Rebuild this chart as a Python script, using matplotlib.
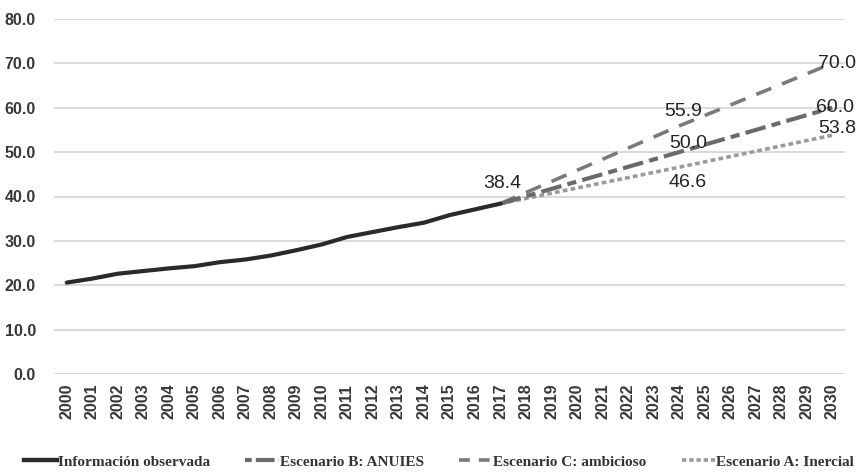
import matplotlib
matplotlib.use("Agg")
import matplotlib.pyplot as plt
from matplotlib.lines import Line2D

# Observed series
years_obs = list(range(2000, 2018))
observed = [20.6, 21.5, 22.6, 23.2, 23.8, 24.3, 25.2, 25.8, 26.7, 27.9,
            29.2, 30.9, 32.0, 33.1, 34.1, 35.8, 37.1, 38.4]

# Scenario anchor years and values
years_scn = [2017, 2024, 2030]
scenario_b = [38.4, 50.0, 60.0]
scenario_c = [38.4, 55.9, 70.0]
scenario_a = [38.4, 46.6, 53.8]

all_years = list(range(2000, 2031))
y_ticks = [0, 10, 20, 30, 40, 50, 60, 70, 80]

fig = plt.figure(figsize=(8.57, 4.72), dpi=100)
ax = fig.add_axes([54 / 857, 1 - 374 / 472, (845 - 54) / 857, (374 - 19) / 472])

def xpos(years):
    return [y - 2000 for y in years]

c_obs = "#2a2a2a"
c_b = "#6a6a6a"
c_c = "#7a7a7a"
c_a = "#9a9a9a"

ax.plot(xpos(years_scn), scenario_a, color=c_a, lw=2.6, dashes=(1.3, 0.9),
        dash_capstyle="butt", zorder=3)
ax.plot(xpos(years_scn), scenario_c, color=c_c, lw=2.6, dashes=(4.5, 3.2),
        dash_capstyle="butt", zorder=3)
ax.plot(xpos(years_scn), scenario_b, color=c_b, lw=3.0, dashes=(5.0, 1.5, 2.2, 1.5),
        dash_capstyle="butt", zorder=4)
ax.plot(xpos(years_obs), observed, color=c_obs, lw=3.0, solid_capstyle="round", zorder=5)

ax.set_xlim(-0.5, 30.5)
ax.set_ylim(0, 80)
ax.set_yticks(y_ticks)
ax.set_yticklabels([f"{v:.1f}" for v in y_ticks])
ax.set_xticks(xpos(all_years))
ax.set_xticklabels([str(y) for y in all_years], rotation=90)

for lbl in ax.get_yticklabels() + ax.get_xticklabels():
    lbl.set_fontsize(11.5)
    lbl.set_fontweight("bold")
    lbl.set_color("#383838")
    lbl.set_family("Liberation Sans")

ax.tick_params(axis="both", length=0)
ax.tick_params(axis="y", pad=13)
ax.tick_params(axis="x", pad=7)
ax.grid(axis="y", color="#cfcfcf", lw=1.1)
ax.set_axisbelow(True)
for s in ax.spines.values():
    s.set_visible(False)

# Value labels
lab_kw = dict(fontsize=14, color="#222222", family="Liberation Sans",
              ha="center", va="center", zorder=6)

def label(year, value, dx, dy):
    ax.annotate(f"{value:.1f}", (year - 2000, value), xytext=(dx, dy),
                textcoords="offset pixels", **lab_kw)

label(2017, observed[-1], 2, 20)
label(2024, scenario_c[1], 4, 14)
label(2024, scenario_b[1], 9, 9)
label(2024, scenario_a[1], 8, -15)
label(2030, scenario_c[2], 5, 0)
label(2030, scenario_b[2], 3, 0)
label(2030, scenario_a[2], 5, 7)

handles = [
    Line2D([], [], color=c_obs, lw=3.2),
    Line2D([], [], color=c_b, lw=3.0, dashes=(1.6, 1.0, 4.5, 1.0), dash_capstyle="butt"),
    Line2D([], [], color=c_c, lw=2.6, dashes=(3.0, 2.5), dash_capstyle="butt"),
    Line2D([], [], color=c_a, lw=2.6, dashes=(1.2, 0.8), dash_capstyle="butt"),
]
names = ["Información observada", "Escenario B: ANUIES",
         "Escenario C: ambicioso", "Escenario A: Inercial"]
leg = fig.legend(handles, names, loc="center", bbox_to_anchor=(0.512, 1 - 462 / 472),
                 ncol=4, frameon=False, handlelength=2.2, handletextpad=0.05,
                 columnspacing=2.3, borderpad=0.1,
                 prop={"family": "Liberation Serif", "size": 11, "weight": "bold"})
for t in leg.get_texts():
    t.set_color("#333333")

fig.savefig("out.png", dpi=100)
